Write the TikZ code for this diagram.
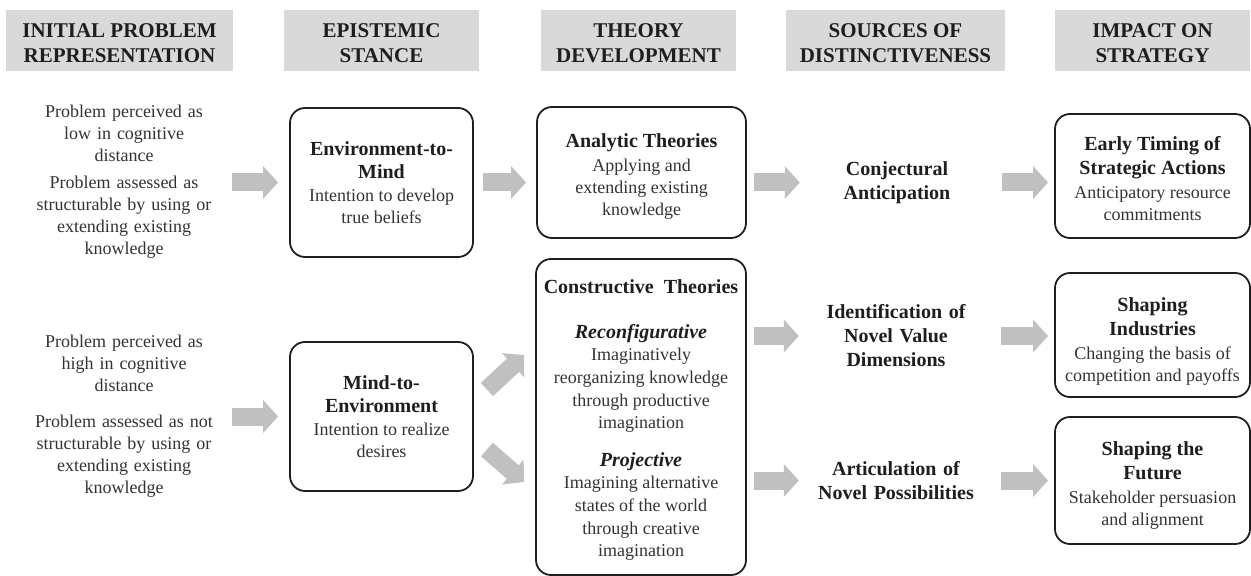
\documentclass[tikz,border=0pt]{standalone}
\usepackage{fontspec}
\setmainfont{Liberation Serif}
\usetikzlibrary{arrows.meta,calc}
\definecolor{hdrgray}{HTML}{D9D9D9}
\definecolor{arrowgray}{HTML}{C0C0C0}
\definecolor{ink}{HTML}{1E1E1E}
\definecolor{soft}{HTML}{333333}
\newcommand{\hfnt}{\fontsize{21bp}{25bp}\selectfont\bfseries}
\newcommand{\rfnt}{\fontsize{18bp}{22bp}\selectfont}
\newcommand{\cfnt}{\fontsize{18bp}{22.6bp}\selectfont}
\newcommand{\bfnt}{\fontsize{20bp}{24bp}\selectfont\bfseries}
\newcommand{\lift}[1]{\rule{0pt}{#1}}
\tikzset{
  hdr/.style={fill=hdrgray, text=ink, font=\hfnt, align=center, inner sep=0pt, minimum height=61bp},
  txt/.style={text=soft, font=\rfnt, align=center, inner sep=0pt},
  src/.style={text=ink, font=\bfnt, align=center, inner sep=0pt, text width=180bp},
  rbox/.style={draw=ink, line width=1.8bp, rounded corners=15bp, text=soft, font=\rfnt, align=center, inner sep=0pt},
  barrow/.style={line width=18bp, draw=arrowgray, -{Triangle[width=32bp,length=15bp]}}
}
\begin{document}
\begin{tikzpicture}[x=1bp,y=-1bp]
\useasboundingbox (0,0) rectangle (1251,576);
% headers
\node[hdr, minimum width=227bp] (h1) at (119.5,40.5) {\lift{20bp}INITIAL PROBLEM\\REPRESENTATION};
\node[hdr, minimum width=195bp] (h2) at (381.5,40.5) {\lift{20bp}EPISTEMIC\\STANCE};
\node[hdr, minimum width=195bp] (h3) at (638.5,40.5) {\lift{20bp}THEORY\\DEVELOPMENT};
\node[hdr, minimum width=219bp] (h4) at (895.5,40.5) {\lift{20bp}SOURCES OF\\DISTINCTIVENESS};
\node[hdr, minimum width=195bp] (h5) at (1152.5,40.5) {\lift{20bp}IMPACT ON\\STRATEGY};
% column 1
\node[txt, text width=200bp] (p1) at (124,182) {Problem perceived as\\low in cognitive\\distance\\[5bp]Problem assessed as\\structurable by using or\\extending existing\\knowledge};
\node[txt, text width=200bp] (p2) at (124,416) {Problem perceived as\\high in cognitive\\distance\\[14bp]Problem assessed as not\\structurable by using or\\extending existing\\knowledge};
% column 2
\node[rbox, minimum width=183bp, minimum height=149bp] (e2m) at (381.5,182.5)
  {{\bfnt\color{ink}Environment-to-}\\[1bp]{\bfnt\color{ink}Mind}\\[1bp]Intention to develop\\true beliefs};
\node[rbox, minimum width=183bp, minimum height=149bp] (m2e) at (381.5,416.5)
  {{\bfnt\color{ink}Mind-to-}\\[1bp]{\bfnt\color{ink}Environment}\\[1bp]Intention to realize\\desires};
% column 3
\node[rbox, minimum width=209bp, minimum height=131bp] (an) at (641.5,172.5)
  {{\bfnt\color{ink}\lift{22bp}Analytic Theories}\\[2bp]Applying and\\extending existing\\knowledge};
\node[rbox, font=\cfnt, minimum width=210bp, minimum height=316bp] (con) at (641,417)
  {{\bfnt\color{ink}\lift{20bp}Constructive\ \ Theories}\\[22.4bp]{\bfnt\itshape\color{ink}Reconfigurative}\\Imaginatively\\reorganizing knowledge\\through productive\\imagination\\[15bp]{\bfnt\itshape\color{ink}Projective}\\Imagining alternative\\states of the world\\through creative\\imagination};
% column 4
\node[src] (conj) at (897,182.5) {Conjectural\\Anticipation};
\node[src] (ident) at (896,336) {Identification of\\Novel Value\\Dimensions};
\node[src] (artic) at (896,480.5) {Articulation of\\Novel Possibilities};
% column 5
\node[rbox, minimum width=195bp, minimum height=124bp] (early) at (1152.5,176)
  {{\bfnt\color{ink}\lift{20bp}Early Timing of}\\[2bp]{\bfnt\color{ink}Strategic Actions}\\[2bp]Anticipatory resource\\commitments};
\node[rbox, minimum width=195bp, minimum height=124bp] (shind) at (1152.5,335)
  {{\bfnt\color{ink}\lift{26bp}Shaping}\\[2bp]{\bfnt\color{ink}Industries}\\[2bp]Changing the basis of\\competition and payoffs};
\node[rbox, minimum width=195bp, minimum height=127bp] (shfut) at (1152.5,480.5)
  {{\bfnt\color{ink}\lift{24bp}Shaping the}\\[2bp]{\bfnt\color{ink}Future}\\[2bp]Stakeholder persuasion\\and alignment};
% arrows
\draw[barrow, shorten <=8bp, shorten >=11bp] (p1.east |- e2m.west) -- (e2m.west);
\draw[barrow, shorten <=8bp, shorten >=11bp] (p2.east |- m2e.west) -- (m2e.west);
\draw[barrow, shorten <=9bp, shorten >=10bp] (e2m.east) -- (e2m.east -| an.west);
\draw[barrow, shorten <=7bp, shorten >=7bp] (an.east |- conj.west) -- (conj.west);
\draw[barrow, shorten <=15bp, shorten >=6bp] (conj.east) -- (conj.east -| early.west);
\draw[barrow, shorten <=7bp, shorten >=7bp] (con.east |- ident.west) -- (ident.west);
\draw[barrow, shorten <=15bp, shorten >=6bp] (ident.east) -- (ident.east -| shind.west);
\draw[barrow, shorten <=7bp, shorten >=7bp] (con.east |- artic.west) -- (artic.west);
\draw[barrow, shorten <=15bp, shorten >=6bp] (artic.east) -- (artic.east -| shfut.west);
\draw[barrow] ($(m2e.east)+(13,-27)$) -- ($(con.west)+(-11,-62)$);
\draw[barrow] ($(m2e.east)+(13,33)$) -- ($(con.west)+(-11,65)$);
\end{tikzpicture}
\end{document}
